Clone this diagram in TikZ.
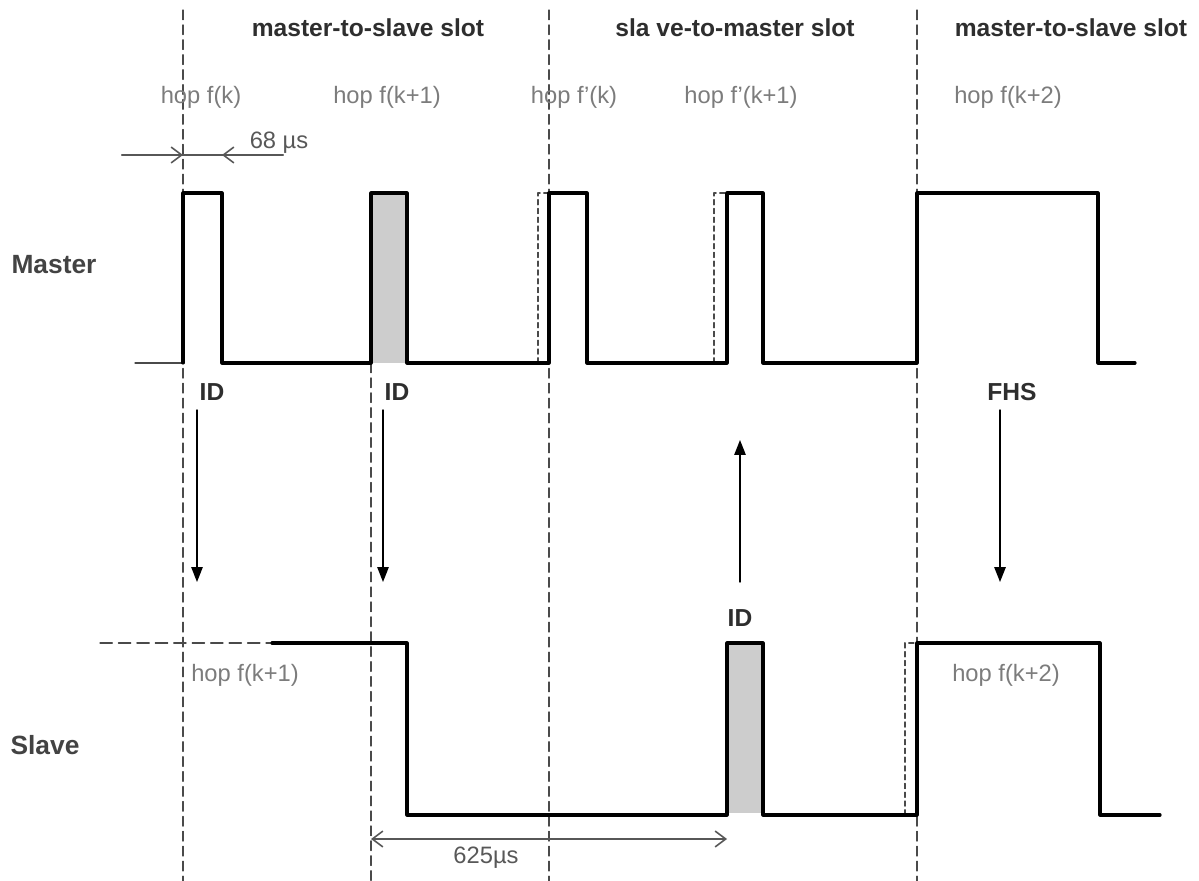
\documentclass[tikz,border=0pt]{standalone}
\usepackage{fontspec}
\setmainfont{Liberation Sans}
\usetikzlibrary{arrows.meta,positioning}
\definecolor{InkDark}{HTML}{2E2E2E}
\definecolor{InkGrey}{HTML}{7C7C7C}
\definecolor{GuideGrey}{HTML}{4A4A4A}
\definecolor{SlotFill}{HTML}{CDCDCD}
\tikzset{
  slotlabel/.style={font=\fontsize{14}{16}\selectfont\bfseries,text=InkDark,inner sep=0pt},
  hoplabel/.style={font=\fontsize{13.5}{16}\selectfont,text=InkGrey,inner sep=0pt},
  pktlabel/.style={font=\fontsize{14}{16}\selectfont\bfseries,text=InkDark,inner sep=0pt},
  rowlabel/.style={font=\fontsize{15}{18}\selectfont\bfseries,text=InkDark!90,inner sep=0pt},
  guide/.style={GuideGrey,line width=0.7pt,dash pattern=on 5.5pt off 3pt},
  ghost/.style={GuideGrey,line width=0.6pt,dash pattern=on 3pt off 2pt},
  wave/.style={black,line width=1.8pt},
  txarrow/.style={black,line width=0.8pt,-{Triangle[length=8.5pt,width=6.5pt]}},
  dimline/.style={InkGrey!70!black,line width=0.9pt},
  dimtip/.style={dimline,-{Straight Barb[length=6pt,width=9pt]}},
}
% one filled slot in a waveform
\newcommand{\slotfill}[3]{%
  \path[fill=SlotFill] (#1,#3) rectangle (#2,{#3+170});
}

\begin{document}
\begin{tikzpicture}[x=0.02cm,y=-0.02cm,line cap=round,line join=round]
  \useasboundingbox (0,0) rectangle (1199,881);
  % slot boundaries
  \foreach \gx/\gtop/\gname in {183/10/gA,371/363/gB,549/10/gC,917/10/gD}{
    \coordinate (\gname) at (\gx,\gtop);
    \draw[guide] (\gname) -- (\gx,881);
  }
  % slot titles and hop frequencies
  \node[slotlabel] (slotA) at (368,28) {master-to-slave slot};
  \node[slotlabel] (slotB) at (735,28) {sla ve-to-master slot};
  \node[slotlabel] (slotC) at (1071,28) {master-to-slave slot};
  \node[hoplabel] (hopA) at (201,97) {hop f(k)};
  \node[hoplabel] (hopB) at (387,97) {hop f(k+1)};
  \node[hoplabel] (hopC) at (574,97) {hop f'(k)};
  \node[hoplabel] (hopD) at (741,97) {hop f'(k+1)};
  \node[hoplabel] (hopE) at (1008,97) {hop f(k+2)};
  % 68 us offset
  \coordinate (dA) at (122,155);
  \coordinate (dB) at (183,155);
  \coordinate (dC) at (222,155);
  \coordinate (dD) at (283,155);
  \draw[dimline] (dA) -- (dD);
  \draw[dimtip] (dA) -- (dB);
  \draw[dimtip] (dD) -- (dC);
  \node[hoplabel,text=InkDark!80] (offset) at (279,143) {68 µs};
  % master row
  \node[rowlabel] (master) at (54,265) {Master};
  \slotfill{371}{407}{193}
  \draw[GuideGrey,line width=0.6pt] (135,363) -- (183,363);
  \draw[ghost] (538,363) |- (549,193);
  \draw[ghost] (714,363) |- (727,193);
  \draw[wave] (183,363) |- (222,193) |- (371,363) |- (407,193) |- (549,363)
    |- (587,193) |- (727,363) |- (763,193) |- (917,363) |- (1098,193) |- (1135,363);
  \node[pktlabel] (idA) at (212,392) {ID};
  \node[pktlabel] (idB) at (397,392) {ID};
  \node[pktlabel] (fhs) at (1012,392) {FHS};
  % slave row
  \node[rowlabel] (slave) at (45,745) {Slave};
  \slotfill{727}{763}{643}
  \draw[GuideGrey,line width=0.7pt,dash pattern=on 7pt off 3.5pt] (100,643) -- (272,643);
  \draw[ghost] (905,815) |- (917,643);
  \draw[wave] (272,643) -- (407,643) |- (727,815) |- (763,643) |- (917,815)
    |- (1100,643) |- (1160,815);
  \node[pktlabel] (idC) at (740,618) {ID};
  \node[hoplabel] (hopF) at (245,675) {hop f(k+1)};
  \node[hoplabel] (hopG) at (1006,675) {hop f(k+2)};
  % transfers
  \coordinate (tA) at (197,410);  \coordinate (rA) at (197,582);
  \coordinate (tB) at (383,410);  \coordinate (rB) at (383,582);
  \coordinate (tC) at (740,582);  \coordinate (rC) at (740,440);
  \coordinate (tD) at (1000,410); \coordinate (rD) at (1000,582);
  \draw[txarrow] (tA) -- (rA);
  \draw[txarrow] (tB) -- (rB);
  \draw[txarrow] (tC) -- (rC);
  \draw[txarrow] (tD) -- (rD);
  % 625 us slot length
  \coordinate (sA) at (371,839);
  \coordinate (sB) at (727,839);
  \draw[dimline,{Straight Barb[length=6pt,width=9pt]}-{Straight Barb[length=6pt,width=9pt]}] (sA) -- (sB);
  \node[hoplabel,text=InkDark!80] (slotlen) at (486,858) {625µs};
\end{tikzpicture}
\end{document}
